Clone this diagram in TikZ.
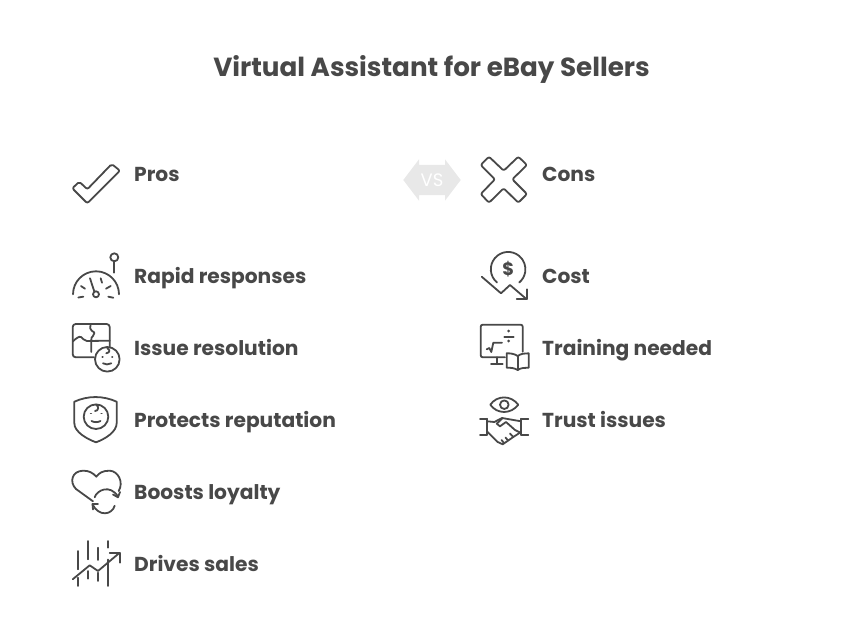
\documentclass[tikz,border=0pt]{standalone}
\usepackage{fontspec}
\setmainfont{Poppins}
\definecolor{inkgrey}{HTML}{484848}
\definecolor{vsgrey}{HTML}{E8E8E8}
\tikzset{
  icon/.style={draw=inkgrey, line width=1.8pt, line cap=round, line join=round},
  label/.style={anchor=base west, text=inkgrey, font=\fontsize{20.2}{24}\selectfont\bfseries, inner sep=0pt},
}
\begin{document}
\begin{tikzpicture}[x=1pt, y=-1pt]
  \useasboundingbox (0, 0) rectangle (858, 639);

  \node[anchor=base, text=inkgrey, font=\fontsize{26.2}{30}\selectfont\bfseries] (title) at (431.5, 76.5) {Virtual Assistant for eBay Sellers};

  \node[label] (pros) at (134, 181) {Pros};
  \node[label] (rapid) at (134, 283) {Rapid responses};
  \node[label] (issue) at (134, 355) {Issue resolution};
  \node[label] (protects) at (134, 427) {Protects reputation};
  \node[label] (boosts) at (134, 499) {Boosts loyalty};
  \node[label] (drives) at (134, 571) {Drives sales};
  \node[label] (cons) at (542, 181) {Cons};
  \node[label] (cost) at (542, 283) {Cost};
  \node[label] (training) at (542, 355) {Training needed};
  \node[label] (trust) at (542, 427) {Trust issues};

  \fill[vsgrey] (403.3, 180) -- (419, 159.3) -- (419, 165) -- (445, 165) -- (445, 159.3) -- (460.7, 180)
    -- (445, 200.7) -- (445, 195) -- (419, 195) -- (419, 200.7) -- cycle;
  \node[text=white, font=\fontsize{18}{20}\selectfont] (vs) at (432, 180.5) {VS};

  % check mark
  \draw[icon, rounded corners=2pt] (72.3, 188.3) -- (79.3, 181.7) -- (87.3, 189.3) -- (111.7, 164) -- (120, 170.7) -- (87.3, 203.3) -- cycle;

  % gauge
  \draw[icon] (73, 294.3) arc[start angle=180, end angle=360, radius=23];
  \draw[icon] (96, 294.3) circle[radius=3];
  \draw[icon] (94.3, 291.5) -- (90, 278.3);
  \draw[icon] (78.3, 297.5) -- (83.3, 296.7);
  \draw[icon] (81, 286) -- (85, 288.7);
  \draw[icon] (100.7, 278.3) -- (102, 282.7);
  \draw[icon] (106, 288.7) -- (110.7, 286);
  \draw[icon] (108.3, 296.7) -- (113.3, 297.7);
  \draw[icon] (114.3, 257.3) circle[radius=4];
  \draw[icon] (114.3, 261.3) -- (114.3, 272.7);

  % puzzle and face
  \draw[icon, rounded corners=3pt] (94, 357.3) -- (72.7, 357.3) -- (72.7, 324) -- (109.7, 324) -- (109.7, 346.7);
  \draw[icon] (72.7, 341.5) .. controls (76, 338.5) and (79, 336) .. (81, 337) .. controls (83, 338) and (84, 341) .. (87, 341) -- (109.7, 340.7);
  \draw[icon] (90.7, 324) .. controls (90, 328) and (90, 330) .. (92, 331) .. controls (95, 332) and (95, 334) .. (93, 336) .. controls (91.5, 337) and (91.3, 338) .. (91.3, 340) -- (91.3, 352);
  \draw[icon] (107.3, 359.3) circle[radius=12.3];
  \draw[icon] (102.3, 356.7) -- (102.8, 356.7);
  \draw[icon] (112, 356.7) -- (112.5, 356.7);
  \draw[icon] (103, 363.3) .. controls (105.5, 364.8) and (108.5, 364.8) .. (111.3, 363.3);
  \draw[icon] (107.3, 348.3) .. controls (110, 349.5) and (110.5, 352.5) .. (106.3, 353.3);

  % shield and face
  \draw[icon] (74.3, 401.7) .. controls (88, 395.5) and (103, 395.5) .. (116.7, 401.7) -- (116.7, 423)
    .. controls (116.7, 432) and (105, 439) .. (96, 442.3) .. controls (87, 439) and (74.3, 432) .. (74.3, 423) -- cycle;
  \draw[icon] (96, 416.7) circle[radius=12.3];
  \draw[icon] (90.7, 413.5) -- (91.2, 413.5);
  \draw[icon] (101.3, 413.5) -- (101.8, 413.5);
  \draw[icon] (91.5, 421) .. controls (94, 422.5) and (98, 422.5) .. (100.5, 421);
  \draw[icon] (96, 404.5) .. controls (99.5, 406.5) and (98.5, 411) .. (95, 411);

  % heart with loop
  \draw[icon] (93, 501.3) -- (76, 489) .. controls (69, 482) and (72, 471) .. (83, 470.7)
    .. controls (89, 470.5) and (93, 473) .. (96.3, 476.7) .. controls (99, 473) and (103, 470.5) .. (109.7, 470.7)
    .. controls (118, 471) and (124, 482) .. (118.7, 491);
  \draw[icon] (94.7, 497.3) .. controls (97, 490) and (110, 484) .. (118, 496.5);
  \draw[icon] (113, 494.5) -- (118, 497.3) -- (120, 492);
  \draw[icon] (114.7, 505.7) .. controls (112, 515) and (99, 517) .. (92.5, 504.5);
  \draw[icon] (98, 504) -- (92.5, 504) -- (93, 509.5);

  % rising bars
  \draw[icon] (78, 551) -- (78, 569.3);
  \draw[icon] (78, 577.7) -- (78, 586);
  \draw[icon] (88, 541) -- (88, 559.3);
  \draw[icon] (88, 571) -- (88, 578.7);
  \draw[icon] (98, 547.7) -- (98, 560);
  \draw[icon] (98, 572.7) -- (98, 581);
  \draw[icon] (108, 541) -- (108, 547.7);
  \draw[icon] (108, 559.5) -- (108, 586);
  \draw[icon] (72.7, 579.3) -- (89.7, 565.3) -- (98, 571) -- (119.7, 552.7);
  \draw[icon] (109.7, 552.7) -- (119.7, 552.7) -- (119.7, 562.7);

  % cross
  \draw[icon, rounded corners=2pt] (503.7, 170.7) -- (518.3, 156.7) -- (527, 165) -- (512.3, 179.3) -- (527, 194) -- (518.3, 202.7)
    -- (503.7, 188.3) -- (489, 202.7) -- (480.7, 194) -- (495, 179.3) -- (480.7, 165) -- (489, 156.7) -- cycle;

  % falling cost
  \draw[icon] (497, 282.5) arc[start angle=130, end angle=410, radius=17.3];
  \node[text=inkgrey, font=\fontsize{18}{20}\selectfont\bfseries] (dollar) at (508.3, 269.3) {\$};
  \draw[icon] (481.7, 276.7) -- (501, 293.3) -- (510, 285) -- (526.7, 299.3);
  \draw[icon] (516.7, 299.3) -- (526.7, 299.3) -- (526.7, 289.3);

  % monitor and book
  \draw[icon, rounded corners=2pt] (505, 357.3) -- (480.7, 357.3) -- (480.7, 324.7) -- (522.7, 324.7) -- (522.7, 351.7);
  \draw[icon] (496.7, 357.3) -- (496.7, 364.3);
  \draw[icon] (491, 364.3) -- (502.7, 364.3);
  \draw[icon] (486.7, 349.3) -- (489.3, 348) -- (491.3, 352) -- (493.3, 342.7) -- (502, 342.7);
  \draw[icon] (504.3, 336.7) -- (513.7, 336.7);
  \fill[inkgrey] (508.7, 331) circle[radius=1.5];
  \fill[inkgrey] (508.7, 341) circle[radius=1.5];
  \draw[icon] (517.7, 356) .. controls (514, 353.5) and (510, 353.3) .. (506.7, 353.3) -- (506.7, 367.7)
    .. controls (510, 367.7) and (514, 367.7) .. (517.7, 370) .. controls (521, 367.7) and (525, 367.7) .. (528.7, 367.7)
    -- (528.7, 353.3) .. controls (525, 353.3) and (521, 353.5) .. (517.7, 356) -- cycle;
  \draw[icon] (517.7, 356) -- (517.7, 370);

  % eye and handshake
  \draw[icon] (490.3, 404.7) .. controls (497, 395) and (511, 395) .. (518.3, 404.7) .. controls (511, 414.4) and (497, 414.4) .. (490.3, 404.7) -- cycle;
  \draw[icon] (504.3, 404.7) circle[radius=4.3];
  \draw[icon] (487, 418.7) -- (487, 434.7);
  \draw[icon] (480, 418.7) -- (487, 418.7);
  \draw[icon] (480, 434.7) -- (487, 434.7);
  \draw[icon] (521, 418.7) -- (521, 434.7);
  \draw[icon] (521, 418.7) -- (528.3, 418.7);
  \draw[icon] (521, 434.7) -- (528.3, 434.7);
  \draw[icon] (487, 421.3) -- (494.3, 422) -- (502, 418) -- (521, 421.3);
  \draw[icon] (502.7, 418) -- (496.7, 423.7) -- (500, 426.3) -- (506, 422) -- (515, 430) -- (521, 433);
  \draw[icon] (487, 431.3) -- (497.7, 442) -- (502.7, 444.3) -- (513.3, 437) -- (521, 432);
  \draw[icon] (504, 443) -- (501.5, 440);
  \draw[icon] (508, 440.5) -- (505.5, 437.5);
  \draw[icon] (513.3, 437) -- (510, 433.5);
\end{tikzpicture}
\end{document}
